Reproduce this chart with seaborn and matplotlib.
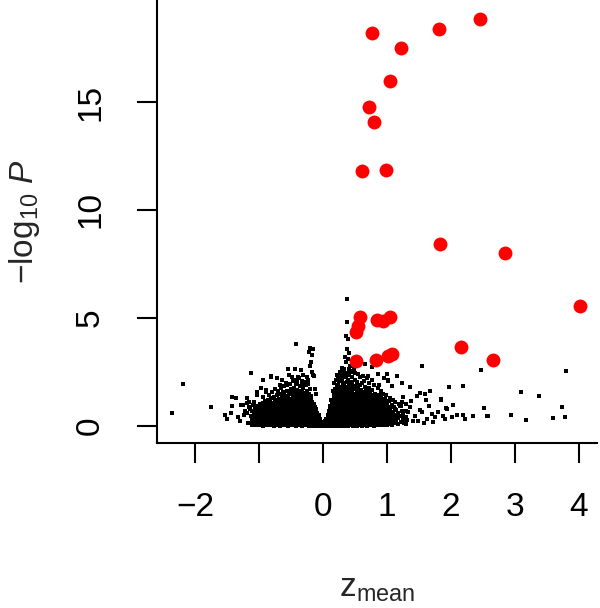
import numpy as np
import pandas as pd
import matplotlib
matplotlib.use("Agg")
import matplotlib.pyplot as plt
import seaborn as sns

# ---------------- data ----------------
# significant hits (red)
sig_z = [0.76, 1.81, 2.46, 1.22, 1.04, 0.72, 0.79, 0.60, 0.98, 1.83, 2.84, 4.02,
         0.57, 0.55, 0.51, 0.84, 0.94, 1.04, 0.52, 0.83, 1.02, 1.07, 2.15, 2.66]
sig_p = [18.18, 18.38, 18.84, 17.49, 15.99, 14.78, 14.09, 11.81, 11.85, 8.43, 8.01, 5.57,
         5.03, 4.64, 4.35, 4.92, 4.88, 5.03, 3.02, 3.07, 3.25, 3.33, 3.66, 3.07]

# dense background cloud, left lobe: (z, [-log10 P values])
cloud_left = [
    (-1.13, [0.12, 0.47]),
    (-1.11, [0.06, 0.31, 0.68]),
    (-1.09, [0.21, 0.39, 0.55]),
    (-1.07, [0.03, 0.15, 0.44, 0.79]),
    (-1.05, [0.09, 0.27, 0.36, 0.62]),
    (-1.03, [0.18, 0.51, 0.71, 0.93]),
    (-1.01, [0.04, 0.12, 0.33, 0.46, 0.85]),
    (-0.99, [0.22, 0.29, 0.58, 0.66, 1.01]),
    (-0.97, [0.08, 0.17, 0.41, 0.77]),
    (-0.95, [0.02, 0.26, 0.35, 0.53, 0.90, 1.08]),
    (-0.93, [0.13, 0.19, 0.47, 0.61, 0.73]),
    (-0.91, [0.06, 0.24, 0.38, 0.57, 0.98, 1.17]),
    (-0.89, [0.10, 0.31, 0.44, 0.69, 0.82]),
    (-0.87, [0.03, 0.16, 0.28, 0.52, 0.63, 1.04, 1.22]),
    (-0.85, [0.08, 0.21, 0.36, 0.48, 0.75, 0.91]),
    (-0.83, [0.14, 0.25, 0.42, 0.59, 0.67, 1.13]),
    (-0.81, [0.05, 0.11, 0.30, 0.39, 0.55, 0.84, 1.28]),
    (-0.79, [0.09, 0.19, 0.34, 0.50, 0.62, 0.78, 0.97]),
    (-0.77, [0.02, 0.15, 0.27, 0.45, 0.58, 0.71, 1.06, 1.35]),
    (-0.75, [0.07, 0.22, 0.33, 0.41, 0.66, 0.88, 1.19]),
    (-0.73, [0.12, 0.18, 0.37, 0.53, 0.61, 0.80, 0.94, 1.42]),
    (-0.71, [0.04, 0.26, 0.31, 0.47, 0.69, 0.76, 1.11]),
    (-0.69, [0.09, 0.14, 0.23, 0.40, 0.56, 0.73, 0.99, 1.27]),
    (-0.67, [0.02, 0.17, 0.29, 0.35, 0.51, 0.64, 0.86, 1.48]),
    (-0.65, [0.06, 0.12, 0.25, 0.43, 0.60, 0.70, 0.92, 1.15, 1.36]),
    (-0.63, [0.10, 0.20, 0.32, 0.38, 0.54, 0.79, 1.03, 1.58]),
    (-0.61, [0.03, 0.15, 0.27, 0.46, 0.57, 0.67, 0.89, 1.22, 1.44]),
    (-0.59, [0.08, 0.18, 0.24, 0.36, 0.49, 0.63, 0.74, 0.97, 1.31]),
    (-0.57, [0.05, 0.13, 0.30, 0.41, 0.52, 0.71, 0.84, 1.08, 1.63]),
    (-0.55, [0.02, 0.11, 0.21, 0.34, 0.45, 0.59, 0.68, 0.93, 1.17, 1.39]),
    (-0.53, [0.07, 0.16, 0.26, 0.39, 0.48, 0.62, 0.77, 1.01, 1.26, 1.52]),
    (-0.51, [0.04, 0.09, 0.19, 0.28, 0.43, 0.55, 0.66, 0.86, 1.12, 1.71]),
    (-0.49, [0.12, 0.23, 0.32, 0.37, 0.50, 0.61, 0.80, 0.95, 1.21, 1.47]),
    (-0.47, [0.03, 0.08, 0.17, 0.29, 0.41, 0.53, 0.70, 0.83, 1.06, 1.33, 1.60]),
    (-0.45, [0.06, 0.14, 0.22, 0.35, 0.46, 0.57, 0.64, 0.90, 1.16, 1.40, 1.78]),
    (-0.43, [0.02, 0.10, 0.19, 0.27, 0.40, 0.52, 0.73, 0.87, 0.99, 1.27, 1.55]),
    (-0.41, [0.05, 0.13, 0.24, 0.33, 0.44, 0.59, 0.67, 0.81, 1.09, 1.36, 1.68, 2.02]),
    (-0.39, [0.08, 0.16, 0.21, 0.30, 0.38, 0.49, 0.62, 0.76, 0.93, 1.20, 1.49]),
    (-0.37, [0.03, 0.11, 0.18, 0.26, 0.36, 0.47, 0.56, 0.70, 0.85, 1.03, 1.31, 1.83]),
    (-0.35, [0.06, 0.09, 0.15, 0.23, 0.32, 0.42, 0.54, 0.65, 0.79, 0.97, 1.14, 1.42, 1.62]),
    (-0.33, [0.02, 0.12, 0.20, 0.28, 0.35, 0.45, 0.58, 0.72, 0.88, 1.07, 1.25, 1.56, 1.95]),
    (-0.31, [0.04, 0.08, 0.17, 0.25, 0.31, 0.40, 0.51, 0.63, 0.77, 0.91, 1.18, 1.37, 1.74]),
    (-0.29, [0.07, 0.14, 0.22, 0.29, 0.38, 0.48, 0.60, 0.69, 0.83, 1.02, 1.29, 1.51]),
    (-0.27, [0.03, 0.10, 0.16, 0.27, 0.34, 0.44, 0.53, 0.66, 0.81, 0.95, 1.12, 1.44, 1.88]),
    (-0.25, [0.05, 0.12, 0.19, 0.24, 0.37, 0.46, 0.57, 0.74, 0.89, 1.08, 1.33, 1.61]),
    (-0.23, [0.02, 0.07, 0.15, 0.21, 0.30, 0.41, 0.50, 0.62, 0.78, 0.93, 1.19, 1.47]),
    (-0.21, [0.04, 0.11, 0.18, 0.26, 0.33, 0.44, 0.55, 0.70, 0.86, 1.04, 1.28]),
    (-0.19, [0.06, 0.09, 0.14, 0.23, 0.31, 0.39, 0.52, 0.64, 0.80, 0.98, 1.22, 1.38]),
    (-0.17, [0.02, 0.08, 0.16, 0.20, 0.28, 0.36, 0.47, 0.59, 0.73, 0.91, 1.10]),
    (-0.15, [0.04, 0.11, 0.13, 0.24, 0.32, 0.43, 0.55, 0.67, 0.84, 1.01]),
    (-0.13, [0.03, 0.06, 0.12, 0.19, 0.26, 0.35, 0.46, 0.58, 0.77, 0.90]),
    (-0.11, [0.01, 0.08, 0.15, 0.21, 0.30, 0.39, 0.51, 0.64, 0.79]),
    (-0.09, [0.04, 0.06, 0.11, 0.17, 0.25, 0.33, 0.44, 0.58]),
    (-0.07, [0.02, 0.07, 0.13, 0.19, 0.28, 0.37, 0.49]),
    (-0.05, [0.01, 0.05, 0.09, 0.15, 0.22, 0.31]),
    (-0.03, [0.02, 0.04, 0.08, 0.12, 0.19]),
    (-0.01, [0.01, 0.03, 0.06]),
]

# dense background cloud, right lobe
cloud_right = [
    (0.01, [0.01, 0.03, 0.07]),
    (0.03, [0.02, 0.05, 0.09, 0.14, 0.21]),
    (0.05, [0.01, 0.06, 0.11, 0.17, 0.26, 0.34]),
    (0.07, [0.03, 0.08, 0.14, 0.20, 0.29, 0.40, 0.52]),
    (0.09, [0.02, 0.05, 0.12, 0.18, 0.24, 0.33, 0.47, 0.63, 0.71]),
    (0.11, [0.04, 0.09, 0.15, 0.22, 0.31, 0.38, 0.50, 0.59, 0.77, 0.93]),
    (0.13, [0.01, 0.07, 0.11, 0.19, 0.27, 0.35, 0.44, 0.56, 0.69, 0.86, 1.06]),
    (0.15, [0.03, 0.06, 0.13, 0.21, 0.25, 0.32, 0.41, 0.53, 0.65, 0.81, 0.98, 1.22]),
    (0.17, [0.05, 0.10, 0.16, 0.23, 0.30, 0.39, 0.48, 0.60, 0.74, 0.89, 1.12, 1.35, 1.54]),
    (0.19, [0.02, 0.08, 0.12, 0.18, 0.27, 0.36, 0.43, 0.57, 0.68, 0.79, 0.95, 1.19, 1.43, 1.70]),
    (0.21, [0.04, 0.07, 0.14, 0.20, 0.26, 0.33, 0.45, 0.52, 0.63, 0.76, 0.91, 1.07, 1.30, 1.61, 1.85]),
    (0.23, [0.01, 0.09, 0.13, 0.22, 0.29, 0.37, 0.42, 0.55, 0.67, 0.72, 0.88, 1.02, 1.24, 1.48, 1.92]),
    (0.25, [0.03, 0.06, 0.11, 0.17, 0.24, 0.31, 0.40, 0.50, 0.61, 0.74, 0.83, 0.99, 1.16, 1.39, 1.66, 2.08]),
    (0.27, [0.05, 0.08, 0.15, 0.21, 0.28, 0.35, 0.46, 0.54, 0.65, 0.78, 0.94, 1.10, 1.27, 1.53, 1.79]),
    (0.29, [0.02, 0.10, 0.13, 0.19, 0.26, 0.33, 0.39, 0.48, 0.59, 0.70, 0.85, 1.03, 1.21, 1.44, 1.72, 2.17]),
    (0.31, [0.04, 0.07, 0.12, 0.18, 0.23, 0.30, 0.41, 0.52, 0.63, 0.75, 0.90, 1.08, 1.33, 1.58, 1.97, 2.33]),
    (0.33, [0.01, 0.06, 0.16, 0.21, 0.27, 0.36, 0.44, 0.57, 0.68, 0.81, 0.97, 1.14, 1.37, 1.65, 1.89]),
    (0.35, [0.03, 0.09, 0.14, 0.20, 0.25, 0.32, 0.42, 0.49, 0.61, 0.73, 0.87, 1.05, 1.26, 1.49, 1.82, 2.28]),
    (0.37, [0.05, 0.11, 0.13, 0.22, 0.29, 0.38, 0.47, 0.56, 0.66, 0.79, 0.93, 1.12, 1.31, 1.57, 2.04, 2.46]),
    (0.39, [0.02, 0.07, 0.15, 0.19, 0.24, 0.34, 0.43, 0.53, 0.64, 0.76, 0.89, 1.01, 1.23, 1.42, 1.76, 2.12]),
    (0.41, [0.04, 0.10, 0.12, 0.17, 0.27, 0.36, 0.45, 0.50, 0.62, 0.71, 0.84, 1.06, 1.29, 1.53, 1.85, 2.37]),
    (0.43, [0.03, 0.08, 0.14, 0.21, 0.30, 0.39, 0.48, 0.58, 0.69, 0.82, 0.98, 1.16, 1.40, 1.68, 2.02]),
    (0.45, [0.06, 0.11, 0.16, 0.23, 0.26, 0.35, 0.44, 0.55, 0.67, 0.80, 0.92, 1.10, 1.34, 1.61, 1.94, 2.26]),
    (0.47, [0.02, 0.09, 0.13, 0.20, 0.28, 0.37, 0.46, 0.51, 0.60, 0.74, 0.88, 1.03, 1.21, 1.46, 1.78]),
    (0.49, [0.04, 0.07, 0.15, 0.22, 0.31, 0.33, 0.42, 0.57, 0.65, 0.77, 0.95, 1.14, 1.38, 1.69, 2.14]),
    (0.51, [0.05, 0.12, 0.18, 0.25, 0.29, 0.40, 0.49, 0.59, 0.70, 0.83, 0.99, 1.18, 1.43, 1.87]),
    (0.53, [0.02, 0.08, 0.14, 0.21, 0.27, 0.36, 0.45, 0.53, 0.64, 0.75, 0.90, 1.07, 1.27, 1.58, 2.05]),
    (0.55, [0.04, 0.10, 0.16, 0.19, 0.30, 0.38, 0.47, 0.56, 0.68, 0.81, 0.96, 1.13, 1.35, 1.72]),
    (0.57, [0.03, 0.07, 0.13, 0.23, 0.28, 0.35, 0.43, 0.52, 0.62, 0.73, 0.86, 1.02, 1.22, 1.49, 1.91]),
    (0.59, [0.05, 0.09, 0.17, 0.24, 0.32, 0.41, 0.50, 0.61, 0.71, 0.85, 1.00, 1.19, 1.41, 1.66]),
    (0.61, [0.02, 0.11, 0.15, 0.20, 0.27, 0.37, 0.46, 0.55, 0.66, 0.79, 0.94, 1.11, 1.30, 1.58, 1.98]),
    (0.63, [0.06, 0.12, 0.19, 0.26, 0.34, 0.39, 0.48, 0.60, 0.72, 0.87, 1.04, 1.26, 1.53]),
    (0.65, [0.03, 0.08, 0.14, 0.22, 0.29, 0.38, 0.47, 0.57, 0.69, 0.82, 0.97, 1.16, 1.37, 1.81]),
    (0.67, [0.05, 0.10, 0.18, 0.25, 0.33, 0.42, 0.52, 0.63, 0.76, 0.91, 1.08, 1.31, 1.64]),
    (0.69, [0.02, 0.09, 0.16, 0.21, 0.30, 0.40, 0.45, 0.58, 0.70, 0.84, 1.01, 1.21, 1.47]),
    (0.71, [0.04, 0.12, 0.15, 0.24, 0.35, 0.44, 0.54, 0.66, 0.78, 0.94, 1.13, 1.39, 1.75]),
    (0.73, [0.07, 0.11, 0.19, 0.28, 0.37, 0.49, 0.60, 0.73, 0.88, 1.05, 1.28, 1.56]),
    (0.75, [0.03, 0.09, 0.17, 0.23, 0.32, 0.43, 0.51, 0.64, 0.79, 0.97, 1.18, 1.44]),
    (0.77, [0.05, 0.13, 0.20, 0.30, 0.36, 0.47, 0.59, 0.71, 0.86, 1.04, 1.33, 1.66]),
    (0.79, [0.02, 0.10, 0.16, 0.25, 0.34, 0.45, 0.55, 0.68, 0.82, 0.99, 1.21]),
    (0.81, [0.06, 0.12, 0.22, 0.29, 0.39, 0.50, 0.62, 0.76, 0.93, 1.14, 1.49]),
    (0.83, [0.04, 0.14, 0.19, 0.27, 0.41, 0.48, 0.58, 0.73, 0.89, 1.09, 1.36]),
    (0.85, [0.08, 0.11, 0.23, 0.33, 0.44, 0.56, 0.69, 0.85, 1.03, 1.25]),
    (0.87, [0.03, 0.15, 0.21, 0.31, 0.38, 0.52, 0.65, 0.80, 0.97, 1.42]),
    (0.89, [0.07, 0.12, 0.26, 0.35, 0.46, 0.59, 0.74, 0.91, 1.17]),
    (0.91, [0.05, 0.17, 0.24, 0.40, 0.53, 0.63, 0.79, 1.06, 1.31]),
    (0.93, [0.09, 0.14, 0.29, 0.43, 0.57, 0.71, 0.88, 1.12]),
    (0.95, [0.04, 0.20, 0.33, 0.48, 0.61, 0.83, 1.01]),
    (0.97, [0.11, 0.18, 0.37, 0.52, 0.68, 0.94, 1.24]),
    (0.99, [0.06, 0.25, 0.41, 0.56, 0.77, 1.08]),
    (1.01, [0.13, 0.22, 0.35, 0.63, 0.89]),
    (1.03, [0.08, 0.30, 0.46, 0.71, 1.15]),
    (1.05, [0.16, 0.27, 0.54, 0.82]),
    (1.07, [0.04, 0.38, 0.59, 0.97]),
    (1.09, [0.21, 0.33, 0.67]),
    (1.11, [0.12, 0.44, 0.86]),
    (1.14, [0.26, 0.52, 0.74]),
    (1.17, [0.08, 0.35, 0.61]),
    (1.21, [0.18, 0.47, 0.92]),
    (1.25, [0.29, 0.56]),
    (1.29, [0.11, 0.41, 0.70]),
]

# ragged upper fringe of the cloud
fringe_z = [-1.25, -1.20, -1.16, -1.08, -0.98, -0.94, -0.90, -0.85, -0.80, -0.75, -0.71,
            -0.68, -0.62, -0.58, -0.52, -0.47, -0.43, -0.38, -0.34, -0.31, -0.28, -0.24,
            -0.21, -0.13, -0.11, -0.66, -0.56, -0.40,
            0.12, 0.15, 0.17, 0.20, 0.21, 0.27, 0.30, 0.33, 0.44, 0.48, 0.50, 0.55, 0.58,
            0.62, 0.64, 0.68, 0.72, 0.76, 0.80, 0.85, 0.88, 0.90, 0.94, 0.98, 1.05,
            1.09, 1.12, 1.18, 1.23, 0.26, 0.40]
fringe_p = [0.95, 1.05, 0.88, 1.12, 1.75, 1.32, 1.65, 1.45, 1.58, 1.70, 1.62,
            1.90, 1.85, 2.00, 1.95, 2.10, 1.93, 2.20, 2.08, 2.35, 2.05, 1.95,
            1.72, 1.70, 1.50, 1.78, 1.88, 2.27,
            1.20, 1.60, 2.00, 2.12, 2.35, 2.50, 2.70, 2.45, 2.50, 2.62, 2.45, 2.40, 2.28,
            2.30, 2.08, 2.20, 2.00, 2.12, 1.90, 1.75, 1.88, 1.60, 1.48, 1.45, 1.30,
            1.22, 1.10, 1.00, 1.12, 2.38, 2.66]

# scattered background genes outside the dense core
sparse_z = [-2.36, -2.19, -1.76, -1.54, -1.42, -1.37, -1.42, -1.34, -1.45, -1.24,
            -1.20, -1.13, -0.95, -1.04, -0.81, -1.15, -1.23, -1.10, -0.89, -1.03,
            -0.55, -0.43, -0.35, -0.44, -0.20, -0.16, -0.22, -0.18, -0.19, -0.20,
            -0.16, -0.24, -0.42, -0.49, -0.53, -0.65, -0.73, -0.81, -0.26, -0.17, -0.14,
            0.37, 0.37, 0.35, 0.38, 0.37, 0.40, 0.34, 0.39, 0.35, 0.32, 0.42, 0.44,
            0.23, 0.29, 0.65, 0.76, 0.70, 0.86, 0.95, 1.02,
            1.54, 2.47, 0.99, 1.16, 1.23, 1.02, 1.07, 1.36, 1.51, 1.59, 1.67, 1.97,
            2.19, 1.85, 2.03, 1.93, 2.52, 1.61, 1.38, 1.25, 1.46, 2.19, 2.35, 2.22,
            2.56, 1.88, 1.75, 1.70, 1.54, 1.62, 1.44, 1.90, 2.01, 2.09, 1.49, 1.28,
            1.33, 1.12, 1.20, 1.30, 3.80, 3.09, 3.38, 3.74, 2.93, 3.17, 3.60, 3.78,
            2.57, 1.84, 1.92, 1.27, 1.31, 1.41, 1.18, 1.14, 1.24, -1.30, -1.12, -1.18,
            -1.28, -1.19, -1.16, -1.50, 1.35, 1.40, 1.52, 1.58, 1.66, 1.72, 1.80]
sparse_p = [0.59, 1.93, 0.87, 0.51, 1.33, 1.30, 0.91, 0.40, 0.60, 0.50,
            1.30, 2.47, 2.13, 1.43, 2.28, 0.79, 0.71, 0.97, 1.59, 1.56,
            2.62, 3.80, 2.61, 2.64, 3.62, 3.57, 3.42, 3.29, 2.95, 2.78,
            2.36, 2.13, 2.13, 2.28, 2.36, 2.13, 2.20, 2.33, 2.25, 2.51, 2.33,
            5.88, 4.83, 4.18, 4.03, 3.56, 3.40, 3.18, 3.10, 2.95, 2.64, 2.79, 2.56,
            2.25, 2.33, 2.87, 2.71, 2.33, 2.40, 2.20, 2.13,
            2.79, 2.59, 2.40, 2.33, 1.98, 2.10, 1.87, 1.79, 1.53, 1.48, 1.63, 1.79,
            1.87, 1.22, 0.97, 0.79, 0.82, 1.22, 1.17, 1.33, 1.40, 0.51, 0.45, 0.32,
            0.48, 0.48, 0.40, 0.56, 0.63, 0.32, 0.48, 0.32, 0.40, 0.51, 0.25, 0.36,
            0.63, 0.79, 0.94, 1.02, 2.55, 1.59, 1.40, 0.89, 0.50, 0.28, 0.37, 0.43,
            0.48, 1.25, 0.82, 0.15, 0.30, 0.22, 0.45, 0.12, 0.70, 0.25, 0.35, 0.15,
            0.95, 0.58, 1.12, 0.33, 0.88, 0.21, 0.74, 0.12, 0.92, 0.18, 0.66]

# ---------------- assemble tables ----------------
bg_z, bg_p = [], []
for z, ps in cloud_left + cloud_right:
    bg_z += [z] * len(ps)
    bg_p += ps
bg = pd.DataFrame({"z": bg_z + fringe_z + sparse_z,
                   "p": bg_p + fringe_p + sparse_p})
sig = pd.DataFrame({"z": sig_z, "p": sig_p})

# ---------------- plotting ----------------
sns.set_style("white")
plt.rcParams["font.family"] = ["Liberation Sans", "DejaVu Sans"]
plt.rcParams["mathtext.fontset"] = "custom"
plt.rcParams["mathtext.rm"] = "Liberation Sans"
plt.rcParams["mathtext.it"] = "Liberation Sans:italic"
plt.rcParams["axes.unicode_minus"] = True

fig = plt.figure(figsize=(6.0, 6.08), dpi=100)
ax = fig.add_axes([0.261, 0.2714, 0.734, 0.7286])

sns.scatterplot(data=bg, x="z", y="p", ax=ax, color="black", marker="s",
                s=6, linewidth=0, legend=False)
sns.scatterplot(data=sig, x="z", y="p", ax=ax, color="#ff0000", marker="o",
                s=100, linewidth=0, legend=False)

ax.set_xlim(-2.607, 4.283)
ax.set_ylim(-0.787, 19.72)

xticks = [-2, -1, 0, 1, 2, 3, 4]
xticklabels = ["\u22122", "", "0", "1", "2", "3", "4"]
yticks = [0, 5, 10, 15]
ax.set_xticks(xticks)
ax.set_xticklabels(xticklabels)
ax.set_yticks(yticks)
ax.set_yticklabels([str(v) for v in yticks], rotation=90, va="center")

for s in ["top", "right"]:
    ax.spines[s].set_visible(False)
for s in ["left", "bottom"]:
    ax.spines[s].set_linewidth(1.5)
    ax.spines[s].set_color("black")

ax.tick_params(axis="both", direction="out", length=14.4, width=1.5,
               color="black", labelsize=24, labelcolor="black",
               bottom=True, left=True)
ax.tick_params(axis="x", pad=21)
ax.tick_params(axis="y", pad=22)

ax.set_xlabel(r"z$_{\mathrm{mean}}$", fontsize=24)
ax.xaxis.label.set_va("baseline")
ax.xaxis.set_label_coords(0.5, -0.3476)
ax.set_ylabel(r"$-$log$_{10}$ $P$", fontsize=24)
ax.yaxis.label.set_va("center")
ax.yaxis.set_label_coords(-0.30, 0.5)

fig.savefig("out.png", dpi=100)
